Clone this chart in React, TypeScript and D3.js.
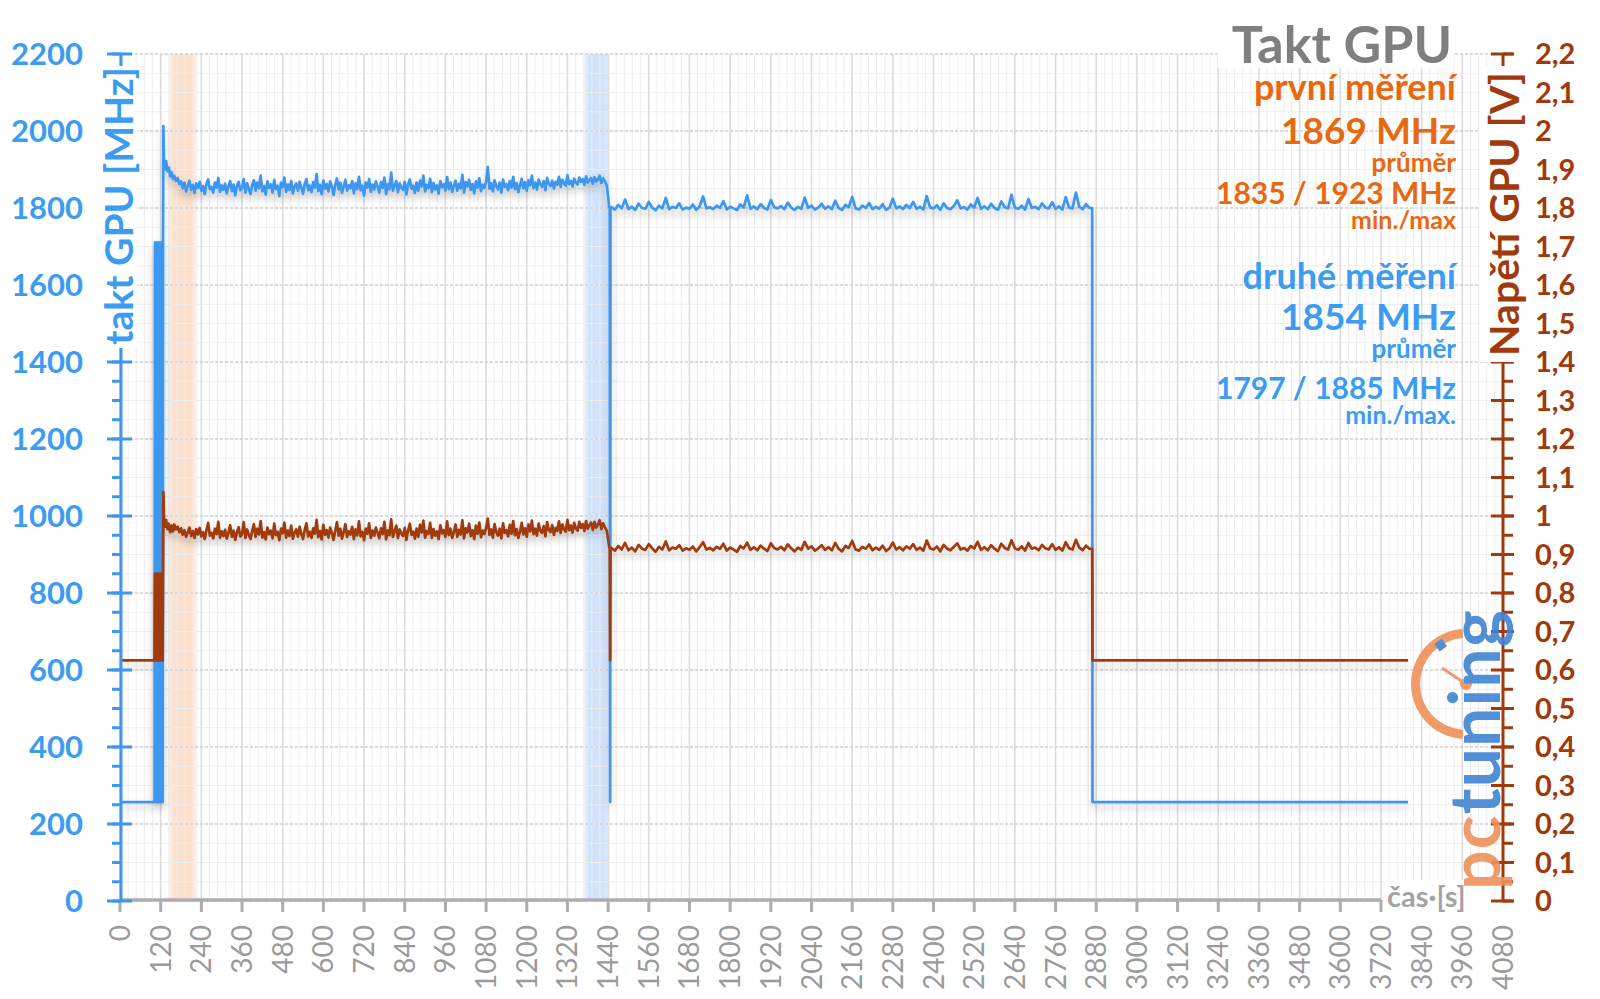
import React from 'react';
import * as d3 from 'd3';

const W = 1600;
const H = 999;
const FONT = "Lato, 'Open Sans', 'DejaVu Sans', sans-serif";

const BLUE = '#3D96F0';
const BLUE_TEXT = '#3C9BF2';
const BROWN = '#A03A0C';
const ORANGE = '#E8680F';
const TITLE_GREY = '#7F7F7F';
const AXIS_GREY = '#ADADAD';

// ---- axis tick values ----
const xTicks = [0, 120, 240, 360, 480, 600, 720, 840, 960, 1080, 1200, 1320, 1440, 1560, 1680, 1800, 1920, 2040, 2160, 2280, 2400, 2520, 2640, 2760, 2880, 3000, 3120, 3240, 3360, 3480, 3600, 3720, 3840, 3960, 4080];
const clockTicks = [0, 200, 400, 600, 800, 1000, 1200, 1400, 1600, 1800, 2000, 2200];
const voltTicks = [0, 0.1, 0.2, 0.3, 0.4, 0.5, 0.6, 0.7, 0.8, 0.9, 1, 1.1, 1.2, 1.3, 1.4, 1.5, 1.6, 1.7, 1.8, 1.9, 2, 2.1, 2.2];
const voltTickLabels = ['0', '0,1', '0,2', '0,3', '0,4', '0,5', '0,6', '0,7', '0,8', '0,9', '1', '1,1', '1,2', '1,3', '1,4', '1,5', '1,6', '1,7', '1,8', '1,9', '2', '2,1', '2,2'];

// ---- highlighted intervals [s] ----
const orangeBand = [142, 230];
const blueBand = [1369, 1445];

// ---- GPU clock [MHz] ----
const clockIdleStart: [number, number][] = [[0, 257], [102, 257]];
const BURST_START = 103;
const clockBurst = [1710, 257, 1710, 257, 1710, 257, 1710, 257, 1710, 257, 1710, 257, 1710, 257, 1710, 257, 1710, 257, 1710, 257, 1710, 257, 1710, 257, 1710];
const clockRamp: [number, number][] = [[128, 2013], [130, 1915], [133, 1900], [136, 1922], [140, 1895], [144, 1905], [148, 1882], [152, 1893], [156, 1875]];
const RUN1_START = 160;
const RUN1_STEP = 5;
const clockRun1 = [
  1884, 1870, 1878, 1862, 1869, 1851, 1866, 1843, 1858, 1871, 1847, 1860, 1839, 1864, 1852,
  1868, 1845, 1857, 1836, 1862, 1874, 1849, 1855, 1840, 1866, 1853, 1878, 1842, 1859, 1847,
  1863, 1838, 1856, 1870, 1844, 1861, 1833, 1857, 1868, 1846, 1852, 1875, 1840, 1864, 1850,
  1836, 1859, 1872, 1845, 1866, 1851, 1884, 1843, 1857, 1835, 1869, 1852, 1861, 1840, 1873,
  1849, 1858, 1831, 1866, 1854, 1879, 1842, 1861, 1847, 1870, 1838, 1856, 1864, 1845, 1868,
  1852, 1837, 1863, 1875, 1846, 1858, 1841, 1867, 1853, 1888, 1844, 1860, 1836, 1871, 1850,
  1862, 1843, 1869, 1855, 1834, 1860, 1877, 1848, 1866, 1839, 1857, 1873, 1845, 1859, 1851,
  1870, 1838, 1864, 1849, 1881, 1846, 1858, 1832, 1866, 1853, 1875, 1842, 1861, 1848, 1869,
  1855, 1840, 1867, 1852, 1879, 1836, 1862, 1849, 1892, 1845, 1858, 1870, 1841, 1864, 1853,
  1847, 1868, 1835, 1861, 1874, 1850, 1858, 1839, 1866, 1845, 1871, 1856, 1884, 1843, 1860,
  1852, 1876, 1841, 1865, 1848, 1859, 1837, 1870, 1854, 1862, 1845, 1880, 1849, 1866, 1842,
  1858, 1871, 1845, 1863, 1851, 1886, 1840, 1867, 1856, 1873, 1847, 1862, 1838, 1869, 1853,
  1877, 1844, 1861, 1852, 1868, 1906, 1850, 1864, 1843, 1872, 1857, 1848, 1866, 1840, 1874,
  1855, 1862, 1846, 1870, 1853, 1881, 1849, 1865, 1841, 1858, 1876, 1851, 1867, 1845, 1872,
  1859, 1884, 1852, 1866, 1848, 1874, 1861, 1855, 1870, 1846, 1878, 1863, 1857, 1871, 1850,
  1868, 1860, 1881, 1855, 1873, 1864, 1858, 1885, 1862, 1870, 1856, 1876, 1866, 1861, 1879,
  1868, 1875, 1860, 1882, 1866, 1872, 1878, 1863, 1880, 1869, 1874, 1884, 1865, 1877, 1870,
];
const clockDrop1: [number, number][] = [[1436, 1858], [1440, 1830], [1443, 1803], [1445, 1800], [1446, 257], [1447, 1800]];
const RUN2_START = 1450;
const RUN2_STEP = 10;
const clockRun2 = [
  1802, 1796, 1808, 1799, 1822, 1797, 1803, 1795, 1811, 1800,
  1798, 1816, 1801, 1794, 1806, 1799, 1826, 1797, 1803, 1800,
  1812, 1796, 1801, 1798, 1809, 1795, 1804, 1830, 1799, 1802,
  1797, 1806, 1800, 1818, 1796, 1803, 1799, 1795, 1809, 1801,
  1833, 1798, 1804, 1797, 1810, 1800, 1796, 1821, 1802, 1799,
  1805, 1797, 1814, 1801, 1795, 1803, 1798, 1827, 1800, 1806,
  1796, 1801, 1811, 1798, 1804, 1797, 1819, 1800, 1795, 1808,
  1802, 1829, 1799, 1796, 1806, 1800, 1813, 1797, 1803, 1798,
  1810, 1795, 1801, 1824, 1799, 1804, 1797, 1808, 1800, 1816,
  1798, 1803, 1796, 1831, 1801, 1799, 1807, 1795, 1812, 1800,
  1797, 1805, 1820, 1799, 1802, 1796, 1809, 1801, 1826, 1798,
  1804, 1797, 1811, 1800, 1795, 1817, 1802, 1799, 1834, 1801,
  1798, 1806, 1796, 1823, 1800, 1803, 1797, 1812, 1801, 1799,
  1815, 1798, 1804, 1796, 1828, 1801, 1799, 1840, 1803, 1797, 1810, 1800,
];
const clockEnd: [number, number][] = [[2868, 1800], [2869, 257], [3800, 257]];

// ---- GPU voltage [V] ----
const voltIdleStart: [number, number][] = [[0, 0.625], [102, 0.625]];
const voltBurst = [0.85, 0.625, 0.85, 0.625, 0.85, 0.625, 0.85, 0.625, 0.85, 0.625, 0.85, 0.625, 0.85, 0.625, 0.85, 0.625, 0.85, 0.625, 0.85, 0.625, 0.85, 0.625, 0.85, 0.625, 0.85];
const voltRamp: [number, number][] = [[128, 1.062], [130, 0.985], [133, 0.972], [136, 0.99], [140, 0.966], [144, 0.98], [148, 0.958], [152, 0.975], [156, 0.96]];
const voltRun1 = [
  0.978, 0.965, 0.972, 0.958, 0.968, 0.951, 0.963, 0.946, 0.957, 0.970, 0.948, 0.961, 0.943, 0.966, 0.952,
  0.969, 0.947, 0.958, 0.940, 0.963, 0.982, 0.949, 0.956, 0.942, 0.967, 0.953, 0.985, 0.944, 0.960, 0.948,
  0.964, 0.941, 0.957, 0.976, 0.946, 0.962, 0.938, 0.958, 0.971, 0.947, 0.953, 0.984, 0.943, 0.965, 0.951,
  0.940, 0.960, 0.979, 0.946, 0.967, 0.952, 0.987, 0.944, 0.958, 0.939, 0.970, 0.953, 0.962, 0.942, 0.980,
  0.950, 0.959, 0.937, 0.967, 0.955, 0.983, 0.944, 0.962, 0.948, 0.975, 0.941, 0.957, 0.965, 0.946, 0.972,
  0.953, 0.940, 0.964, 0.981, 0.947, 0.959, 0.943, 0.968, 0.954, 0.990, 0.945, 0.961, 0.939, 0.977, 0.951,
  0.963, 0.944, 0.970, 0.956, 0.938, 0.961, 0.984, 0.949, 0.967, 0.941, 0.958, 0.979, 0.946, 0.960, 0.952,
  0.972, 0.940, 0.965, 0.950, 0.986, 0.947, 0.959, 0.937, 0.967, 0.954, 0.981, 0.943, 0.962, 0.949, 0.970,
  0.956, 0.942, 0.968, 0.953, 0.985, 0.939, 0.963, 0.950, 0.991, 0.946, 0.959, 0.975, 0.943, 0.965, 0.954,
  0.948, 0.969, 0.938, 0.962, 0.980, 0.951, 0.959, 0.941, 0.967, 0.946, 0.977, 0.957, 0.988, 0.944, 0.961,
  0.953, 0.982, 0.943, 0.966, 0.949, 0.960, 0.940, 0.976, 0.955, 0.963, 0.946, 0.986, 0.950, 0.967, 0.943,
  0.959, 0.978, 0.946, 0.964, 0.952, 0.989, 0.942, 0.968, 0.957, 0.980, 0.948, 0.963, 0.940, 0.975, 0.954,
  0.983, 0.945, 0.962, 0.953, 0.969, 0.993, 0.951, 0.965, 0.944, 0.979, 0.958, 0.949, 0.967, 0.942, 0.981,
  0.956, 0.963, 0.947, 0.977, 0.954, 0.987, 0.950, 0.966, 0.943, 0.959, 0.982, 0.952, 0.968, 0.946, 0.978,
  0.960, 0.988, 0.953, 0.967, 0.949, 0.980, 0.962, 0.956, 0.974, 0.947, 0.984, 0.964, 0.958, 0.976, 0.951,
  0.969, 0.961, 0.986, 0.956, 0.978, 0.965, 0.959, 0.990, 0.963, 0.975, 0.957, 0.982, 0.967, 0.962, 0.985,
  0.969, 0.979, 0.961, 0.987, 0.967, 0.976, 0.983, 0.964, 0.985, 0.970, 0.978, 0.989, 0.966, 0.981, 0.972,
];
const voltDrop1: [number, number][] = [[1436, 0.962], [1440, 0.94], [1443, 0.92], [1445, 0.915], [1446, 0.625], [1447, 0.915]];
const voltRun2 = [
  0.917, 0.910, 0.922, 0.913, 0.930, 0.911, 0.918, 0.908, 0.925, 0.915,
  0.912, 0.927, 0.916, 0.907, 0.920, 0.913, 0.934, 0.911, 0.918, 0.915,
  0.924, 0.910, 0.916, 0.912, 0.921, 0.908, 0.919, 0.932, 0.913, 0.917,
  0.911, 0.920, 0.915, 0.928, 0.910, 0.918, 0.913, 0.907, 0.922, 0.916,
  0.931, 0.912, 0.919, 0.911, 0.923, 0.915, 0.909, 0.929, 0.917, 0.913,
  0.920, 0.911, 0.926, 0.916, 0.908, 0.918, 0.912, 0.933, 0.915, 0.921,
  0.910, 0.916, 0.924, 0.912, 0.919, 0.911, 0.930, 0.915, 0.908, 0.922,
  0.917, 0.935, 0.913, 0.910, 0.920, 0.915, 0.926, 0.911, 0.918, 0.912,
  0.923, 0.909, 0.916, 0.931, 0.913, 0.919, 0.911, 0.921, 0.915, 0.927,
  0.912, 0.918, 0.910, 0.936, 0.916, 0.913, 0.921, 0.908, 0.925, 0.915,
  0.911, 0.920, 0.929, 0.913, 0.917, 0.910, 0.922, 0.916, 0.933, 0.912,
  0.919, 0.911, 0.924, 0.915, 0.909, 0.928, 0.917, 0.913, 0.937, 0.916,
  0.912, 0.921, 0.910, 0.930, 0.915, 0.918, 0.911, 0.925, 0.916, 0.913,
  0.927, 0.912, 0.919, 0.910, 0.932, 0.916, 0.913, 0.938, 0.918, 0.911, 0.923, 0.915,
];
const voltEnd: [number, number][] = [[2868, 0.915], [2869, 0.625], [3800, 0.625]];

// ---- text block ----
const chartTitle = 'Takt GPU';
const firstLabel = 'první měření';
const firstAvg = '1869 MHz';
const firstMinMax = '1835 / 1923 MHz';
const secondLabel = 'druhé měření';
const secondAvg = '1854 MHz';
const secondMinMax = '1797 / 1885 MHz';

function buildSeries(
  idle: [number, number][], burst: number[], ramp: [number, number][],
  run1: number[], drop: [number, number][], run2: number[], end: [number, number][]
): [number, number][] {
  return [
    ...idle,
    ...burst.map((v, i) => [BURST_START + i, v] as [number, number]),
    ...ramp,
    ...run1.map((v, i) => [RUN1_START + i * RUN1_STEP, v] as [number, number]),
    ...drop,
    ...run2.map((v, i) => [RUN2_START + i * RUN2_STEP, v] as [number, number]),
    ...end,
  ];
}

export default function App() {
  const left = 120;
  const right = 1503;
  const top = 54;
  const bottom = 901;

  const x = d3.scaleLinear().domain([0, 4080]).range([left, right]);
  const yC = d3.scaleLinear().domain([0, 2200]).range([bottom, top]);
  const yV = d3.scaleLinear().domain([0, 2.2]).range([bottom, top]);

  const clockData = buildSeries(clockIdleStart, clockBurst, clockRamp, clockRun1, clockDrop1, clockRun2, clockEnd);
  const voltData = buildSeries(voltIdleStart, voltBurst, voltRamp, voltRun1, voltDrop1, voltRun2, voltEnd);

  const clockLine = d3.line<[number, number]>().x((d) => x(d[0])).y((d) => yC(d[1]));
  const voltLine = d3.line<[number, number]>().x((d) => x(d[0])).y((d) => yV(d[1]));

  const minorX = d3.range(0, 4080 + 1, 24);
  const minorY = d3.range(0, 2200 + 1, 50);
  const minorV = d3.range(0, 2.2 + 0.001, 0.05);

  return (
    <svg width={W} height={H} style={{ position: 'absolute', left: 0, top: 0, background: '#fff' }} fontFamily={FONT}>
      <defs>
        <linearGradient id="gOrange" x1="0" x2="1" y1="0" y2="0">
          <stop offset="0" stopColor="#FBE0CE" stopOpacity="0.3" />
          <stop offset="0.2" stopColor="#FBE0CE" stopOpacity="1" />
          <stop offset="0.8" stopColor="#FBE0CE" stopOpacity="1" />
          <stop offset="1" stopColor="#FBE0CE" stopOpacity="0.3" />
        </linearGradient>
        <linearGradient id="gBlue" x1="0" x2="1" y1="0" y2="0">
          <stop offset="0" stopColor="#D0E3FA" stopOpacity="0.4" />
          <stop offset="0.2" stopColor="#D0E3FA" stopOpacity="1" />
          <stop offset="0.8" stopColor="#D0E3FA" stopOpacity="1" />
          <stop offset="1" stopColor="#D0E3FA" stopOpacity="0.4" />
        </linearGradient>
        <filter id="shadow" x="-5%" y="-20%" width="110%" height="140%">
          <feDropShadow dx="0" dy="5" stdDeviation="4" floodColor="#000" floodOpacity="0.22" />
        </filter>
      </defs>

      {/* highlighted bands */}
      <rect x={x(orangeBand[0])} y={top} width={x(orangeBand[1]) - x(orangeBand[0])} height={bottom - top} fill="url(#gOrange)" />
      <rect x={x(blueBand[0])} y={top} width={x(blueBand[1]) - x(blueBand[0])} height={bottom - top} fill="url(#gBlue)" />

      {/* minor grid */}
      {minorX.map((t) => (
        <line key={'mx' + t} x1={x(t)} x2={x(t)} y1={top} y2={bottom} stroke="#EEEEEE" strokeWidth={1} />
      ))}
      {minorY.map((v) => (
        <line key={'my' + v} x1={left} x2={right} y1={yC(v)} y2={yC(v)} stroke="#EEEEEE" strokeWidth={1} />
      ))}
      {/* major grid */}
      {xTicks.map((t) => (
        <line key={'gx' + t} x1={x(t)} x2={x(t)} y1={top} y2={bottom} stroke="#DCDDE2" strokeWidth={1.6} />
      ))}
      {clockTicks.map((v) => (
        <line key={'gy' + v} x1={left} x2={right} y1={yC(v)} y2={yC(v)} stroke="#D4D4D4" strokeWidth={1.6} strokeDasharray="3 2" />
      ))}

      {/* series */}
      <g filter="url(#shadow)">
        <path d={clockLine(clockData) || ''} fill="none" stroke={BLUE} strokeWidth={2.7} strokeLinejoin="round" />
        <path d={voltLine(voltData) || ''} fill="none" stroke={BROWN} strokeWidth={2.7} strokeLinejoin="round" />
      </g>

      {/* x axis */}
      <line x1={left} x2={x(3720)} y1={900} y2={900} stroke={AXIS_GREY} strokeWidth={3.5} />
      {xTicks.map((t) => (
        <g key={'xt' + t}>
          {t <= 3720 && <line x1={x(t)} x2={x(t)} y1={900} y2={912} stroke={AXIS_GREY} strokeWidth={3} />}
          <text transform={`translate(${x(t) + 10},${925}) rotate(-90)`} textAnchor="end" fontSize={28} fill="#9B9B9B">
            {t}
          </text>
        </g>
      ))}
      <rect x={1385} y={880} width={106} height={34} fill="#fff" />
      <text x={1387} y={907} fontSize={29} fontWeight={700} fill="#A3A3A3">čas·[s]</text>

      {/* left axis */}
      <line x1={121} x2={121} y1={top} y2={bottom} stroke={BLUE} strokeWidth={3} />
      {minorY.map((v) => (
        <line key={'lt' + v} x1={112} x2={121} y1={yC(v)} y2={yC(v)} stroke={BLUE} strokeWidth={3} />
      ))}
      {clockTicks.map((v) => (
        <g key={'lm' + v}>
          <line x1={107} x2={132} y1={yC(v)} y2={yC(v)} stroke={BLUE} strokeWidth={3} />
          <text x={83} y={yC(v) + 11} textAnchor="end" fontSize={31} fontWeight={700} fill={BLUE_TEXT}>
            {v}
          </text>
        </g>
      ))}
      <rect x={97} y={66} width={40} height={282} fill="#fff" />
      <text transform={`translate(133,206) rotate(-90)`} textAnchor="middle" fontSize={39} fontWeight={700} fill={BLUE_TEXT}>
        takt GPU [MHz]
      </text>

      {/* right axis */}
      <line x1={1503} x2={1503} y1={top} y2={bottom} stroke={BROWN} strokeWidth={3} />
      {minorV.map((v, i) => (
        <line key={'rt' + i} x1={1503} x2={1513} y1={yV(v)} y2={yV(v)} stroke={BROWN} strokeWidth={3} />
      ))}
      {voltTicks.map((v, i) => (
        <g key={'rm' + i}>
          <line x1={1491} x2={1514} y1={yV(v)} y2={yV(v)} stroke={BROWN} strokeWidth={3} />
          <text x={1535} y={yV(v) + 10} fontSize={29} fontWeight={700} fill={BROWN}>
            {voltTickLabels[i]}
          </text>
        </g>
      ))}
      <rect x={1480} y={66} width={46} height={296} fill="#fff" />
      <text transform={`translate(1519,214) rotate(-90)`} textAnchor="middle" fontSize={41} fontWeight={700} fill={BROWN}>
        Napětí GPU [V]
      </text>

      {/* logo */}
      <g opacity={0.9}>
        <path
          d={d3.arc()({ innerRadius: 46, outerRadius: 55, startAngle: -Math.PI * 0.02, endAngle: -Math.PI * 0.98 }) || ''}
          transform="translate(1466,684)"
          fill="#F0905A"
        />
        <line x1={1466} y1={684} x2={1442} y2={668} stroke="#F0905A" strokeWidth={3} />
        <circle cx={1466} cy={684} r={6} fill="#F0905A" />
        <rect x={1436} y={641} width={9} height={9} fill="#3F84D2" transform="rotate(-35,1440,645)" />
        <text transform="translate(1500,890) rotate(-90)" fontSize={70} fontWeight={700} letterSpacing={1}>
          <tspan fill="#F0905A">pc</tspan>
          <tspan fill="#3F84D2">tuning</tspan>
        </text>
      </g>

      {/* text block */}
      <rect x={1218} y={22} width={236} height={46} fill="#fff" />
      <text x={1452} y={63} textAnchor="end" fontSize={52} fontWeight={700} fill={TITLE_GREY}>{chartTitle}</text>
      <text x={1456} y={100} textAnchor="end" fontSize={36} fontWeight={700} fill={ORANGE}>{firstLabel}</text>
      <text x={1456} y={144} textAnchor="end" fontSize={37} fontWeight={700} fill={ORANGE}>{firstAvg}</text>
      <text x={1456} y={172} textAnchor="end" fontSize={26} fontWeight={700} fill={ORANGE}>průměr</text>
      <text x={1456} y={204} textAnchor="end" fontSize={30} fontWeight={700} fill={ORANGE}>{firstMinMax}</text>
      <text x={1456} y={229} textAnchor="end" fontSize={25} fontWeight={700} fill={ORANGE}>min./max</text>

      <text x={1456} y={289} textAnchor="end" fontSize={36} fontWeight={700} fill={BLUE_TEXT}>{secondLabel}</text>
      <text x={1456} y={330} textAnchor="end" fontSize={37} fontWeight={700} fill={BLUE_TEXT}>{secondAvg}</text>
      <text x={1456} y={358} textAnchor="end" fontSize={26} fontWeight={700} fill={BLUE_TEXT}>průměr</text>
      <text x={1456} y={399} textAnchor="end" fontSize={30} fontWeight={700} fill={BLUE_TEXT}>{secondMinMax}</text>
      <text x={1456} y={424} textAnchor="end" fontSize={25} fontWeight={700} fill={BLUE_TEXT}>min./max.</text>
    </svg>
  );
}
